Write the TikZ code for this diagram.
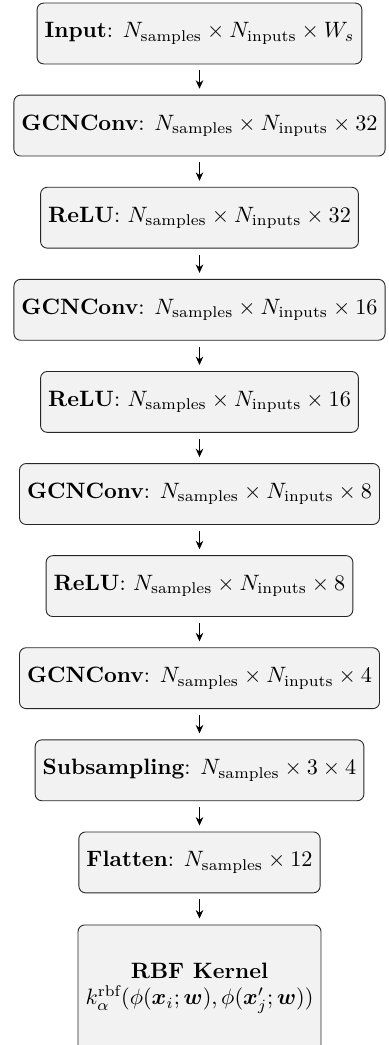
\documentclass[tikz,border=0pt]{standalone}
\usepackage{amsmath}
\usepackage{bm}
\usetikzlibrary{arrows.meta}

\tikzset{
  layer/.style={draw=black!85, fill=gray!10, rounded corners=3pt,
    minimum height=27.4pt, inner xsep=3.4pt, align=center},
  kernel/.style={layer, minimum height=57pt},
  flow/.style={-{Stealth[length=3.8pt,width=3.4pt]}, shorten <=2.7pt, shorten >=2.7pt}
}
\newcommand{\Ns}{N_{\text{samples}}}
\newcommand{\Ni}{N_{\text{inputs}}}

\begin{document}
\begin{tikzpicture}[x=0.45pt, y=-0.45pt]
  \useasboundingbox (0,0) rectangle (388,1045);

  \node[layer] (in)   at (199.5,33.5)  {\textbf{Input}: $\Ns \times \Ni \times W_s$};
  \node[layer] (g1)   at (199.5,125.6) {\textbf{GCNConv}: $\Ns \times \Ni \times 32$};
  \node[layer] (r1)   at (199.5,217.7) {\textbf{ReLU}: $\Ns \times \Ni \times 32$};
  \node[layer] (g2)   at (199.5,309.8) {\textbf{GCNConv}: $\Ns \times \Ni \times 16$};
  \node[layer] (r2)   at (199.5,401.9) {\textbf{ReLU}: $\Ns \times \Ni \times 16$};
  \node[layer] (g3)   at (199.5,494.0) {\textbf{GCNConv}: $\Ns \times \Ni \times 8$};
  \node[layer] (r3)   at (199.5,586.1) {\textbf{ReLU}: $\Ns \times \Ni \times 8$};
  \node[layer] (g4)   at (199.5,678.2) {\textbf{GCNConv}: $\Ns \times \Ni \times 4$};
  \node[layer] (sub)  at (199.5,770.3) {\textbf{Subsampling}: $\Ns \times 3 \times 4$};
  \node[layer] (flat) at (199.5,862.4) {\textbf{Flatten}: $\Ns \times 12$};
  \node[kernel, anchor=north] (rbf) at (199.5,924.5)
    {\textbf{RBF Kernel}\\
     $k_{\alpha}^{\text{rbf}}(\phi(\bm{x}_i;\bm{w}),\phi(\bm{x}'_j;\bm{w}))$};

  \foreach \a/\b in {in/g1, g1/r1, r1/g2, g2/r2, r2/g3, g3/r3, r3/g4, g4/sub, sub/flat, flat/rbf}
    \draw[flow] (\a) -- (\b);
\end{tikzpicture}
\end{document}
